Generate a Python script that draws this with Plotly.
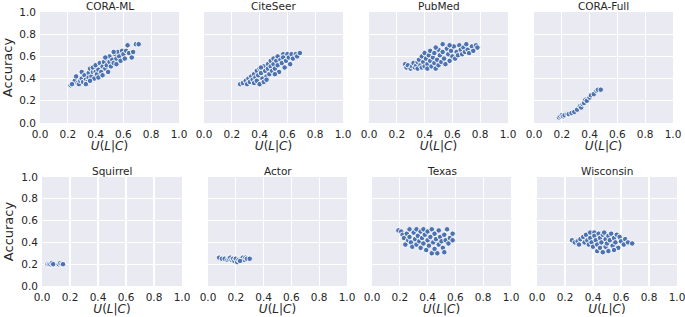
import plotly.graph_objects as go

titles = ["CORA-ML", "CiteSeer", "PubMed", "CORA-Full", "Squirrel", "Actor", "Texas", "Wisconsin"]
x_ticks = [0.0, 0.2, 0.4, 0.6, 0.8, 1.0]
x_tick_labels = ["0.0", "0.2", "0.4", "0.6", "0.8", "1.0"]
y_ticks = [0.0, 0.2, 0.4, 0.6, 0.8, 1.0]
y_tick_labels = ["0.0", "0.2", "0.4", "0.6", "0.8", "1.0"]

cora_ml_u = [0.22, 0.24, 0.25, 0.23, 0.26, 0.27, 0.28, 0.29, 0.30, 0.30, 0.31, 0.32, 0.33, 0.34, 0.35, 0.35, 0.36, 0.37, 0.38, 0.38, 0.39, 0.40, 0.40, 0.41, 0.42, 0.42, 0.43, 0.44, 0.45, 0.45, 0.46, 0.47, 0.48, 0.48, 0.49, 0.50, 0.50, 0.51, 0.52, 0.53, 0.54, 0.55, 0.55, 0.56, 0.57, 0.58, 0.59, 0.60, 0.61, 0.62, 0.63, 0.64, 0.66, 0.67, 0.69, 0.71, 0.53, 0.47, 0.33, 0.36]
cora_ml_acc = [0.34, 0.36, 0.38, 0.35, 0.42, 0.36, 0.35, 0.38, 0.46, 0.40, 0.37, 0.43, 0.39, 0.37, 0.45, 0.41, 0.49, 0.42, 0.46, 0.50, 0.40, 0.52, 0.46, 0.44, 0.48, 0.41, 0.54, 0.46, 0.51, 0.43, 0.55, 0.49, 0.52, 0.58, 0.46, 0.55, 0.60, 0.51, 0.57, 0.54, 0.62, 0.58, 0.53, 0.64, 0.60, 0.56, 0.65, 0.62, 0.58, 0.65, 0.70, 0.63, 0.59, 0.64, 0.71, 0.71, 0.64, 0.59, 0.35, 0.38]

citeseer_u = [0.26, 0.28, 0.30, 0.31, 0.32, 0.33, 0.34, 0.35, 0.36, 0.36, 0.37, 0.38, 0.38, 0.39, 0.40, 0.40, 0.41, 0.42, 0.43, 0.43, 0.44, 0.45, 0.46, 0.46, 0.47, 0.48, 0.48, 0.49, 0.50, 0.50, 0.51, 0.52, 0.53, 0.53, 0.54, 0.55, 0.56, 0.57, 0.57, 0.58, 0.59, 0.60, 0.61, 0.62, 0.63, 0.64, 0.66, 0.67, 0.69, 0.41, 0.45, 0.51]
citeseer_acc = [0.35, 0.36, 0.38, 0.35, 0.40, 0.37, 0.42, 0.39, 0.44, 0.36, 0.41, 0.47, 0.38, 0.43, 0.49, 0.35, 0.45, 0.40, 0.51, 0.37, 0.47, 0.42, 0.53, 0.49, 0.44, 0.56, 0.51, 0.47, 0.58, 0.53, 0.49, 0.56, 0.60, 0.52, 0.46, 0.57, 0.54, 0.62, 0.59, 0.50, 0.56, 0.62, 0.59, 0.53, 0.62, 0.58, 0.62, 0.60, 0.63, 0.50, 0.39, 0.44]

pubmed_u = [0.26, 0.27, 0.28, 0.30, 0.31, 0.32, 0.33, 0.34, 0.35, 0.35, 0.36, 0.37, 0.38, 0.38, 0.39, 0.40, 0.40, 0.41, 0.42, 0.42, 0.43, 0.44, 0.44, 0.45, 0.46, 0.47, 0.47, 0.48, 0.49, 0.50, 0.50, 0.51, 0.52, 0.53, 0.53, 0.54, 0.55, 0.56, 0.57, 0.58, 0.59, 0.60, 0.61, 0.62, 0.63, 0.64, 0.65, 0.66, 0.67, 0.68, 0.69, 0.70, 0.71, 0.72, 0.74, 0.75, 0.77, 0.78, 0.48, 0.58]
pubmed_acc = [0.53, 0.50, 0.52, 0.49, 0.51, 0.54, 0.50, 0.52, 0.55, 0.49, 0.57, 0.52, 0.50, 0.60, 0.55, 0.63, 0.51, 0.58, 0.53, 0.49, 0.61, 0.56, 0.65, 0.51, 0.59, 0.54, 0.63, 0.49, 0.57, 0.66, 0.52, 0.61, 0.55, 0.71, 0.64, 0.58, 0.53, 0.67, 0.62, 0.56, 0.65, 0.60, 0.69, 0.58, 0.64, 0.61, 0.70, 0.66, 0.62, 0.68, 0.64, 0.71, 0.66, 0.63, 0.69, 0.65, 0.70, 0.68, 0.68, 0.70]

cora_full_u = [0.18, 0.19, 0.20, 0.21, 0.22, 0.24, 0.25, 0.27, 0.29, 0.31, 0.33, 0.34, 0.35, 0.36, 0.37, 0.38, 0.40, 0.41, 0.43, 0.45, 0.46, 0.48]
cora_full_acc = [0.05, 0.06, 0.07, 0.06, 0.07, 0.08, 0.08, 0.09, 0.10, 0.12, 0.15, 0.14, 0.17, 0.18, 0.21, 0.20, 0.23, 0.25, 0.26, 0.29, 0.30, 0.30]

squirrel_u = [0.04, 0.05, 0.06, 0.07, 0.08, 0.12, 0.13, 0.14, 0.15]
squirrel_acc = [0.20, 0.20, 0.20, 0.21, 0.20, 0.20, 0.21, 0.20, 0.20]

actor_u = [0.08, 0.10, 0.12, 0.14, 0.15, 0.16, 0.17, 0.18, 0.19, 0.20, 0.21, 0.22, 0.24, 0.25, 0.26, 0.27, 0.28, 0.30, 0.23]
actor_acc = [0.26, 0.25, 0.25, 0.24, 0.25, 0.26, 0.24, 0.25, 0.23, 0.25, 0.22, 0.24, 0.25, 0.26, 0.24, 0.26, 0.25, 0.25, 0.23]

texas_u = [0.19, 0.21, 0.22, 0.23, 0.24, 0.25, 0.26, 0.27, 0.27, 0.28, 0.29, 0.30, 0.31, 0.32, 0.32, 0.33, 0.34, 0.35, 0.35, 0.36, 0.37, 0.37, 0.38, 0.39, 0.40, 0.40, 0.41, 0.42, 0.43, 0.43, 0.44, 0.45, 0.45, 0.46, 0.47, 0.48, 0.48, 0.49, 0.50, 0.51, 0.52, 0.53, 0.54, 0.55, 0.56, 0.58, 0.58, 0.52]
texas_acc = [0.51, 0.50, 0.47, 0.44, 0.38, 0.48, 0.42, 0.52, 0.45, 0.40, 0.36, 0.49, 0.43, 0.52, 0.38, 0.46, 0.41, 0.50, 0.35, 0.44, 0.52, 0.39, 0.47, 0.33, 0.42, 0.50, 0.37, 0.45, 0.52, 0.30, 0.40, 0.48, 0.34, 0.43, 0.30, 0.51, 0.38, 0.45, 0.41, 0.35, 0.47, 0.42, 0.52, 0.39, 0.44, 0.48, 0.42, 0.31]

wisconsin_u = [0.25, 0.27, 0.29, 0.30, 0.31, 0.33, 0.34, 0.35, 0.36, 0.37, 0.38, 0.38, 0.39, 0.40, 0.41, 0.41, 0.42, 0.43, 0.43, 0.44, 0.45, 0.45, 0.46, 0.47, 0.47, 0.48, 0.49, 0.49, 0.50, 0.51, 0.51, 0.52, 0.53, 0.54, 0.55, 0.56, 0.57, 0.58, 0.59, 0.60, 0.62, 0.63, 0.65, 0.68, 0.55]
wisconsin_acc = [0.42, 0.40, 0.41, 0.38, 0.43, 0.45, 0.40, 0.47, 0.42, 0.38, 0.49, 0.44, 0.40, 0.36, 0.49, 0.46, 0.42, 0.32, 0.38, 0.48, 0.44, 0.35, 0.40, 0.31, 0.47, 0.49, 0.43, 0.36, 0.39, 0.46, 0.32, 0.42, 0.48, 0.37, 0.44, 0.40, 0.47, 0.35, 0.45, 0.41, 0.38, 0.43, 0.40, 0.39, 0.33]

series_u = [cora_ml_u, citeseer_u, pubmed_u, cora_full_u, squirrel_u, actor_u, texas_u, wisconsin_u]
series_acc = [cora_ml_acc, citeseer_acc, pubmed_acc, cora_full_acc, squirrel_acc, actor_acc, texas_acc, wisconsin_acc]

W, H = 685, 317
# pixel boxes (left, right, top, bottom)
boxes = [
    (40, 179, 12, 123), (204, 343, 12, 123), (369, 508, 12, 123), (534, 673, 12, 123),
    (42, 182, 177, 286), (208, 347, 177, 286), (372, 511, 177, 286), (537, 677, 177, 286),
]

FONT = "DejaVu Sans"
TXT = "#262626"
fig = go.Figure()
layout = dict(
    width=W, height=H, margin=dict(l=0, r=0, t=0, b=0, autoexpand=False),
    paper_bgcolor="white", plot_bgcolor="#EAEAF2", showlegend=False,
    font=dict(family=FONT, color=TXT, size=10),
)
annotations = []
for i, (name, us, accs, box) in enumerate(zip(titles, series_u, series_acc, boxes)):
    n = i + 1
    xa = "x" if n == 1 else f"x{n}"
    ya = "y" if n == 1 else f"y{n}"
    fig.add_trace(go.Scatter(
        x=us, y=accs, mode="markers", xaxis=xa, yaxis=ya,
        marker=dict(size=5.5, color="#4C72B0", line=dict(color="white", width=0.9)),
    ))
    l, r, t, b = box
    xd = [l / W, r / W]
    yd = [1 - b / H, 1 - t / H]
    first_col = (i % 4 == 0)
    layout["xaxis" if n == 1 else f"xaxis{n}"] = dict(
        domain=xd, range=[0, 1], tickvals=x_ticks, ticktext=x_tick_labels,
        showgrid=True, gridcolor="white", gridwidth=1.3, zeroline=False,
        showline=False, ticks="", tickfont=dict(size=10.5, family=FONT, color=TXT),
        ticklabelstandoff=3, ticklabeloverflow="allow",
        anchor=ya, fixedrange=True, automargin=False,
        title=dict(text="<i>U</i>(<i>L</i>|<i>C</i>)", font=dict(size=12, family=FONT, color=TXT), standoff=3),
    )
    layout["yaxis" if n == 1 else f"yaxis{n}"] = dict(
        domain=yd, range=[0, 1], tickvals=y_ticks, ticktext=y_tick_labels,
        showticklabels=first_col,
        showgrid=True, gridcolor="white", gridwidth=1.3, zeroline=False,
        showline=False, ticks="", tickfont=dict(size=10.5, family=FONT, color=TXT),
        ticklabelstandoff=3, ticklabeloverflow="allow",
        anchor=xa, fixedrange=True, automargin=False,
        title=dict(text="Accuracy" if first_col else "", font=dict(size=13, family=FONT, color=TXT), standoff=4),
    )
    annotations.append(dict(
        text=name, x=(xd[0] + xd[1]) / 2, y=yd[1], xref="paper", yref="paper",
        xanchor="center", yanchor="bottom", yshift=-1, borderpad=0, showarrow=False,
        font=dict(size=10.5, family=FONT, color=TXT),
    ))
layout["annotations"] = annotations
fig.update_layout(**layout)
fig.write_html(
    "out.html",
    config={"displayModeBar": False, "staticPlot": True},
    post_script="document.body.style.margin='0px';document.body.style.overflow='hidden';",
)
